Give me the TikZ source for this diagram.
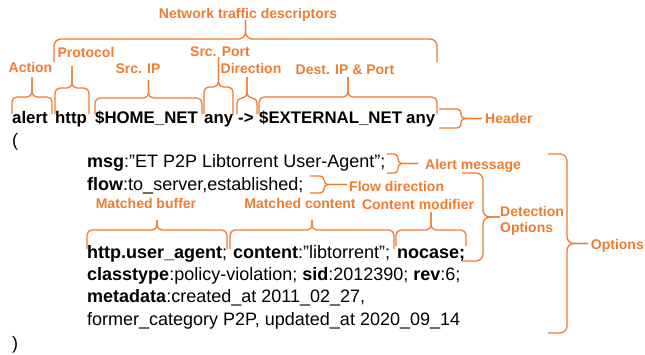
\documentclass[tikz,border=0pt]{standalone}
\usepackage{fontspec}
\setmainfont{Liberation Sans}
\definecolor{brorange}{RGB}{237,125,49}
\tikzset{
  code/.style={anchor=base west, inner sep=0pt, font=\fontsize{18}{20}\selectfont},
  headtok/.style={anchor=base west, inner sep=0pt, font=\fontsize{16.8}{20}\selectfont\bfseries},
  lbl/.style={inner sep=0pt, text=brorange, font=\fontsize{14}{16.5}\selectfont\bfseries},
  brc/.style={draw=brorange, line width=1.3pt},
}
% horizontal brace opening downwards: x1, x2, y of ends, y of bar, y of tip
\newcommand\hbr[6][5pt]{%
  \draw[brc,rounded corners=#1] (#2,#4) -- (#2,#5) -- ({(#2+#3)/2},#5) -- ({(#2+#3)/2},#6);
  \draw[brc,rounded corners=#1] (#3,#4) -- (#3,#5) -- ({(#2+#3)/2},#5) -- ({(#2+#3)/2},#6);}
% vertical brace opening left: y1, y2, x of ends, x of bar, x of tip
\newcommand\vbr[6][5pt]{%
  \draw[brc,rounded corners=#1] (#4,#2) -- (#5,#2) -- (#5,{(#2+#3)/2}) -- (#6,{(#2+#3)/2});
  \draw[brc,rounded corners=#1] (#4,#3) -- (#5,#3) -- (#5,{(#2+#3)/2}) -- (#6,{(#2+#3)/2});}
\begin{document}
\begin{tikzpicture}[x=1pt,y=-1pt]
\useasboundingbox (0,0) rectangle (645,354);
\fill[white] (0,0) rectangle (645,354);

% header tokens
\node[headtok] (act) at (12,123.5) {alert};
\node[headtok] (proto) at (55,123.5) {http};
\node[headtok] (sip) at (95,123.5) {\$HOME\_NET};
\node[headtok] (sport) at (204,123.5) {any};
\node[headtok] (dir) at (238,123.5) {->};
\node[headtok] (dip) at (259,123.5) {\$EXTERNAL\_NET};
\node[headtok] (dport) at (406,123.5) {any};

% body
\node[code] (open) at (12,146) {(};
\node[code] (msg) at (87,167) {\textbf{msg}:"ET P2P Libtorrent User-Agent";};
\node[code] (flow) at (87,190) {\textbf{flow}:to\_server,established;};
\node[code] (buf) at (87,258) {\textbf{http.user\_agent};};
\node[code] (cont) at (233,258) {\textbf{content}:"libtorrent";};
\node[code] (nocase) at (397,258) {\textbf{nocase;}};
\node[code] (cls) at (87,280.5) {\textbf{classtype}:policy-violation; \textbf{sid}:2012390; \textbf{rev}:6;};
\node[code] (meta) at (87,302.5) {\textbf{metadata}:created\_at 2011\_02\_27,};
\node[code] (former) at (87,325) {former\_category P2P, updated\_at 2020\_09\_14};
\node[code] (close) at (12,349) {)};

% labels
\node[lbl, anchor=base] (lnet) at (248,18) {Network traffic descriptors};
\node[lbl, anchor=base] (lact) at (30.5,72) {Action};
\node[lbl, anchor=base] (lproto) at (86,57) {Protocol};
\node[lbl, anchor=base] (lsip) at (138,73.5) {Src. IP};
\node[lbl, anchor=base] (lsport) at (220,56) {Src. Port};
\node[lbl, anchor=base] (ldir) at (251,73.5) {Direction};
\node[lbl, anchor=base] (ldip) at (345,74) {Dest. IP \& Port};
\node[lbl, anchor=base west] (lhead) at (485,123) {Header};
\node[lbl, anchor=base west] (lalert) at (425,169) {Alert message};
\node[lbl, anchor=base west] (lflow) at (349,191) {Flow direction};
\node[lbl, anchor=base] (lbuf) at (146,208) {Matched buffer};
\node[lbl, anchor=base] (lcont) at (300,208) {Matched content};
\node[lbl, anchor=base] (lmod) at (418,209) {Content modifier};
\node[lbl, anchor=west, align=left] (ldet) at (500,221) {Detection\\Options};
\node[lbl, anchor=base east] (lopt) at (644,249.5) {Options};

% header braces
\hbr{12}{52}{114}{97}{77}
\hbr{55}{89}{114}{88}{66}
\hbr{95}{202}{114}{98}{80}
\hbr{204}{233}{114}{87}{57}
\hbr{237}{257}{114}{98}{77}
\hbr{259}{437}{114}{97}{77}
\hbr[7pt]{54}{437}{62}{39}{20}
\vbr[4pt]{109}{128}{439}{461}{482}

% option braces
\vbr[4pt]{154}{173}{387}{398}{418}
\vbr[4pt]{176}{193}{310}{324}{347}
\hbr{87}{227}{249}{230}{220}
\hbr{230}{394}{249}{230}{220}
\hbr{396}{466}{246}{230}{212}
\vbr[7pt]{173}{261}{462}{483}{500}
\vbr[7pt]{154}{333}{548}{567}{588}
\end{tikzpicture}
\end{document}
